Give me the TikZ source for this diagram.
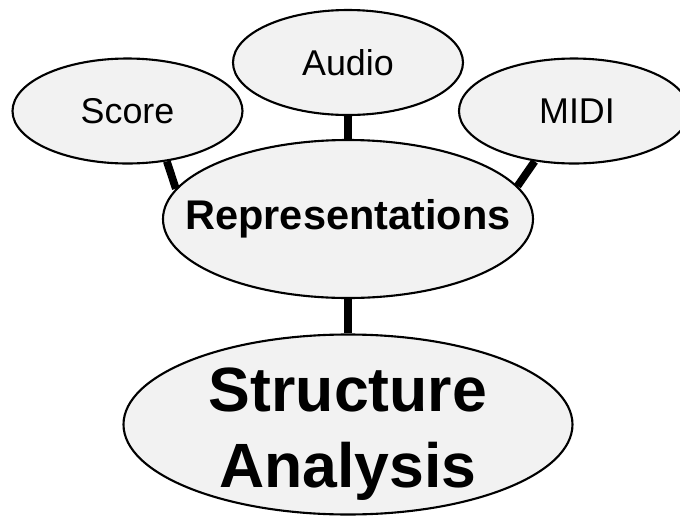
\documentclass[tikz,border=0pt]{standalone}
\usepackage{fontspec}
\setmainfont{Liberation Sans}
\usetikzlibrary{positioning,shapes.geometric}
\definecolor{bubblefill}{HTML}{F2F2F2}

\begin{document}
\begin{tikzpicture}[
    bubble/.style={draw=black, ellipse, line width=0.6pt, fill=bubblefill, inner sep=0pt,
        minimum width=2.30cm, minimum height=1.05cm},
    hubbubble/.style={bubble, minimum width=3.70cm, minimum height=1.58cm},
    goalbubble/.style={bubble, minimum width=4.49cm, minimum height=1.80cm},
    sourcetext/.style={inner sep=0pt, font=\fontsize{10.2}{12}\selectfont},
    hubtext/.style={inner sep=0pt, font=\fontsize{11.8}{14}\selectfont\bfseries},
    goaltext/.style={inner sep=0pt, align=center, font=\fontsize{17.8}{21.6}\selectfont\bfseries},
    link/.style={line width=2.2pt, black},
]
    \useasboundingbox (0,0) rectangle (6.8,-5.16);

    % --- Nodes ---
    \node[bubble] (score) at (1.275, -1.11) {};
    \node[bubble] (audio) at (3.48, -0.625) {};
    \node[bubble] (midi) at (5.74, -1.11) {};

    \node[hubbubble] (rep) at (3.48, -2.19) {};
    \node[goalbubble] (sa) at (3.48, -4.245) {};

    % --- Labels ---
    \node[sourcetext] (score label) at (score) {Score};
    \node[sourcetext] (audio label) at (audio) {Audio};
    \node[sourcetext, xshift=0.3mm] (midi label) at (midi) {MIDI};
    \node[hubtext] (rep label) at (rep) {Representations};
    \node[goaltext, yshift=-1mm] (sa label) at (sa) {Structure\\Analysis};

    % --- Links ---
    \draw[link] (score.-52) -- (rep.170);
    \draw[link] (audio.south) -- (rep.north);
    \draw[link] (midi.232) -- (rep.11);
    \draw[link] (rep.south) -- (sa.north);

\end{tikzpicture}
\end{document}
